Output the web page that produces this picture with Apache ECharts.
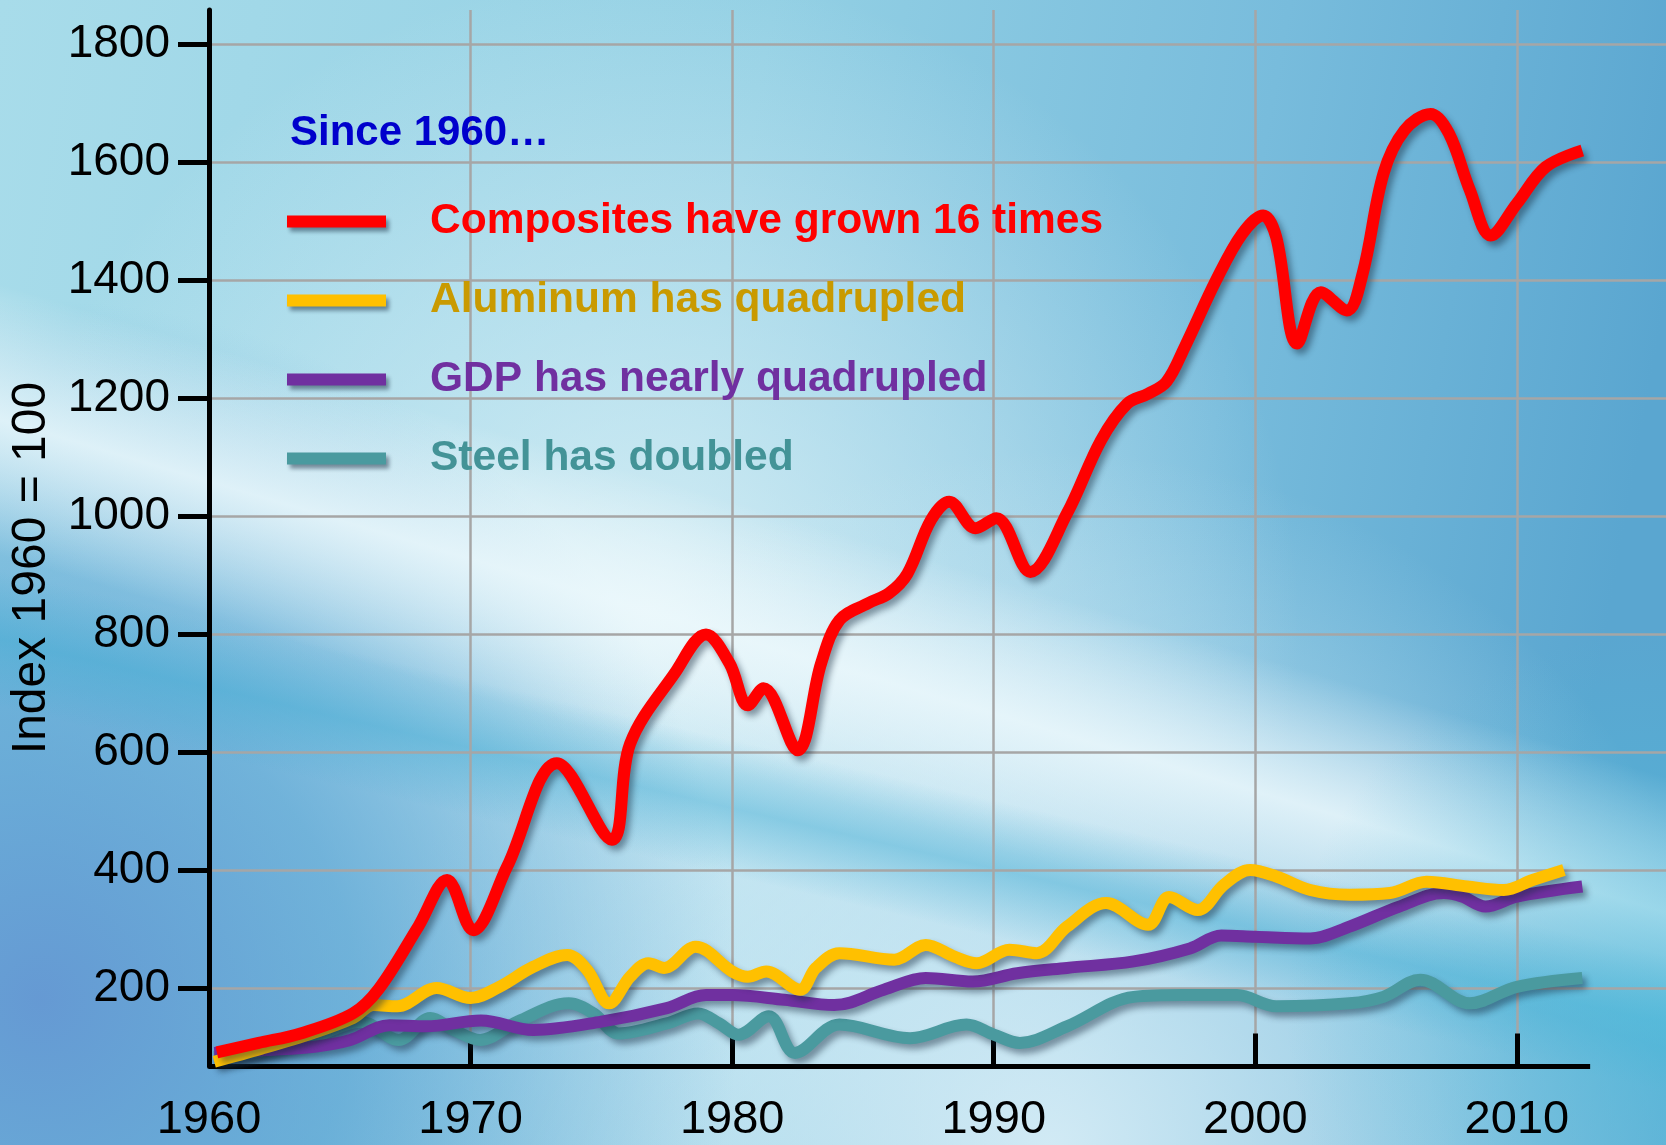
<!DOCTYPE html>
<html>
<head>
<meta charset="utf-8">
<script src="https://cdn.jsdelivr.net/npm/echarts@6/dist/echarts.min.js"></script>
<style>
html,body{margin:0;padding:0;background:#8fcbe3;}
#chart{width:1666px;height:1145px;}
</style>
</head>
<body>
<div id="chart"></div>
<script>
// ---------------- data ----------------
const yTickLabels = [200, 400, 600, 800, 1000, 1200, 1400, 1600, 1800];
const xTickLabels = [1960, 1970, 1980, 1990, 2000, 2010];
const xTickMarks = [1970, 1980, 1990, 2000, 2010];
const axisTitle = 'Index 1960 = 100';
const headerText = 'Since 1960…';
const seriesNames = [
  'Composites have grown 16 times',
  'Aluminum has quadrupled',
  'GDP has nearly quadrupled',
  'Steel has doubled'
];

const compositesYears = [1960.3,1961.9,1963.5,1965.5,1966.5,1968.0,1969.1,1970.1,1971.4,1973.3,1975.4,1976.1,1977.8,1979.0,1979.9,1980.6,1981.2,1982.5,1983.4,1984.1,1985.2,1986.0,1986.7,1987.6,1988.3,1989.3,1990.1,1991.4,1992.8,1994.1,1995.1,1995.9,1996.6,1997.3,1998.5,1999.5,2000.3,2000.8,2001.6,2002.5,2003.5,2004.1,2004.9,2005.7,2006.7,2007.4,2008.2,2009.0,2010.0,2011.1,2012.5];
const compositesValues = [92,108,124,158,200,305,384,299,407,582,452,615,734,800,751,680,709,604,751,824,853,870,903,994,1025,980,997,906,1005,1129,1191,1208,1228,1287,1400,1479,1510,1473,1293,1380,1349,1411,1581,1654,1682,1649,1553,1476,1530,1592,1620];

const aluminumYears = [1960.2,1962.0,1964.0,1965.5,1966.3,1967.2,1968.7,1970.0,1971.1,1972.4,1973.7,1974.45,1975.3,1976.1,1976.8,1977.4,1978.6,1980.0,1980.6,1981.3,1982.6,1983.2,1984.1,1986.2,1987.4,1988.5,1989.35,1990.6,1991.65,1992.8,1994.3,1995.9,1996.7,1997.8,1998.8,1999.8,2000.8,2002.1,2003.6,2005.15,2006.55,2008.1,2009.5,2010.6,2011.8];
const aluminumValues = [76,98,125,150,172,170,201,184,203,237,257,232,175,220,243,235,271,229,220,229,198,235,260,249,274,254,243,266,260,305,345,308,355,333,376,401,390,367,359,362,381,373,367,384,401];

const gdpYears = [1960.2,1962.2,1964.1,1965.4,1966.9,1968.3,1970.4,1972.4,1975.0,1977.5,1979.0,1980.0,1982.0,1983.9,1985.8,1987.4,1989.2,1990.9,1992.8,1995.35,1997.5,1998.7,2000.0,2002.1,2003.6,2005.5,2007.2,2007.9,2008.8,2010.0,2012.5];
const gdpValues = [91,96,102,113,138,136,146,130,144,167,189,189,181,172,198,218,212,226,235,246,268,290,288,285,305,339,362,356,339,356,373];

const steelYears = [1960.2,1962.0,1964.0,1965.8,1967.25,1968.46,1969.35,1970.37,1971.8,1973.75,1974.7,1975.66,1977.5,1978.7,1979.5,1980.25,1981.4,1982.4,1984.1,1986.8,1988.96,1990.0,1991.0,1992.8,1995.35,1997.25,1999.3,2000.8,2003.6,2004.9,2006.3,2008.2,2010.0,2012.5];
const steelValues = [84,95,118,144,113,150,130,113,144,175,158,124,141,158,141,122,153,91,139,116,139,122,108,136,186,189,189,170,175,186,215,175,203,218];

const yMin = 68, yMax = 1858, xMin = 1960, xMax = 2015.7, xAxisEnd = 2012.8;

// ---------------- helpers ----------------
const FONT = '"Liberation Sans", Arial, sans-serif';
const W = 1666, H = 1145;
function zip(xs, ys) { return xs.map((x, i) => [x, ys[i]]); }
function lin(x0, y0, x1, y1, stops) {
  return new echarts.graphic.LinearGradient(x0, y0, x1, y1,
    stops.map(s => ({ offset: s[0], color: s[1] })), true);
}
function rad(cx, cy, r, stops) {
  return new echarts.graphic.RadialGradient(cx, cy, r,
    stops.map(s => ({ offset: s[0], color: s[1] })), true);
}
function bgRect(fill, z) {
  return { type: 'rect', silent: true, z: z, shape: { x: 0, y: 0, width: W, height: H }, style: { fill: fill } };
}
const shadow = { shadowColor: 'rgba(20,40,60,0.45)', shadowBlur: 6, shadowOffsetX: 4, shadowOffsetY: 5 };
const plain = v => String(v);

function lineSeries(name, data, color) {
  return {
    type: 'line', name: name, data: data, smooth: 0.35, symbol: 'none',
    lineStyle: Object.assign({ color: color, width: 12 }, shadow),
    itemStyle: { color: color },
    emphasis: { disabled: true }, silent: true, clip: false
  };
}

const chart = echarts.init(document.getElementById('chart'), null, { renderer: 'canvas' });
chart.setOption({
  animation: false,
  backgroundColor: 'transparent',
  graphic: { elements: [
    bgRect(lin(0, 0, W, 300, [[0, '#a8dcea'], [0.45, '#93d0e4'], [0.75, '#78bcdc'], [1, '#5aa6d0']]), -110),
    bgRect(rad(650, 620, 650, [[0, 'rgba(236,248,251,0.75)'], [0.6, 'rgba(225,243,249,0.35)'], [1, 'rgba(225,243,249,0)']]), -109),
    bgRect(rad(1050, 1150, 700, [[0, 'rgba(225,242,249,0.85)'], [0.55, 'rgba(210,236,246,0.5)'], [1, 'rgba(210,236,246,0)']]), -108.5),
    bgRect(rad(40, 1000, 700, [[0, 'rgba(98,150,210,0.95)'], [0.45, 'rgba(85,160,210,0.7)'], [1, 'rgba(85,160,210,0)']]), -108),
    bgRect(lin(437, 413, 363, 663, [[0, 'rgba(255,255,255,0)'], [0.5, 'rgba(240,250,253,0.8)'], [1, 'rgba(255,255,255,0)']]), -107),
    bgRect(lin(560, 700, 530, 830, [[0, 'rgba(60,170,210,0)'], [0.5, 'rgba(60,170,210,0.45)'], [1, 'rgba(60,170,210,0)']]), -106),
    bgRect(rad(1666, 1010, 380, [[0, 'rgba(80,190,220,0.6)'], [1, 'rgba(80,190,220,0)']]), -105),
    {
      type: 'text', x: 32, y: 568, rotation: Math.PI / 2, z: 10, silent: true,
      style: { text: axisTitle, fill: '#000', font: '48px ' + FONT,
        textAlign: 'center', textVerticalAlign: 'middle', align: 'center', verticalAlign: 'middle' }
    }
  ]},
  title: {
    text: headerText, left: 290, top: 112, padding: 0,
    textStyle: { color: '#0000CC', fontWeight: 'bold', fontSize: 42, fontFamily: FONT }
  },
  legend: {
    orient: 'vertical', left: 287, top: 200, padding: 0,
    itemWidth: 99, itemHeight: 12, itemGap: 36, icon: 'rect', selectedMode: false,
    itemStyle: { shadowColor: 'rgba(20,40,60,0.5)', shadowBlur: 4, shadowOffsetX: 3, shadowOffsetY: 4 },
    textStyle: { fontSize: 42.5, fontWeight: 'bold', fontFamily: FONT, lineHeight: 42, padding: [0, 0, 0, 39] },
    data: [
      { name: seriesNames[0], textStyle: { color: '#FF0000' } },
      { name: seriesNames[1], textStyle: { color: '#C99A00' } },
      { name: seriesNames[2], textStyle: { color: '#7030A0' } },
      { name: seriesNames[3], textStyle: { color: '#439397' } }
    ]
  },
  grid: { left: 209, right: 0, top: 10, bottom: 78.5, containLabel: false },
  xAxis: {
    type: 'value', min: xMin, max: xMax, interval: 10,
    axisLine: { show: false },
    axisTick: { show: true, inside: true, length: 33, lineStyle: { color: '#000', width: 5 }, customValues: xTickMarks },
    axisLabel: { customValues: xTickLabels, formatter: plain, margin: 30, fontSize: 47, color: '#000', fontFamily: FONT },
    splitLine: { show: true, lineStyle: { color: '#A6A6A6', width: 2.5 } }
  },
  yAxis: {
    type: 'value', min: yMin, max: yMax,
    axisLine: { show: true, lineStyle: { color: '#000', width: 5 } },
    axisTick: { show: true, inside: false, length: 31, lineStyle: { color: '#000', width: 5 }, customValues: yTickLabels },
    axisLabel: { customValues: yTickLabels, formatter: plain, margin: 39, fontSize: 46, color: '#000', fontFamily: FONT },
    splitLine: { show: true, lineStyle: { color: '#A6A6A6', width: 2.5 } }
  },
  series: [
    {
      type: 'line', name: 'x-axis line', data: [[xMin, yMin], [xAxisEnd, yMin]], symbol: 'none',
      lineStyle: { color: '#000', width: 5 }, silent: true, clip: false, z: 1, emphasis: { disabled: true }
    },
    lineSeries(seriesNames[3], zip(steelYears, steelValues), '#4A9A9F'),
    lineSeries(seriesNames[2], zip(gdpYears, gdpValues), '#7030A0'),
    lineSeries(seriesNames[1], zip(aluminumYears, aluminumValues), '#FFC000'),
    lineSeries(seriesNames[0], zip(compositesYears, compositesValues), '#FF0000')
  ]
});
</script>
</body>
</html>
